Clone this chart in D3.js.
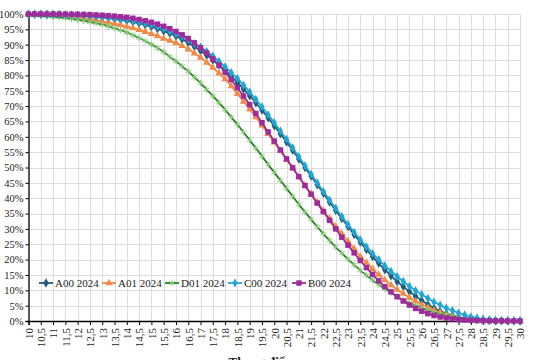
<!DOCTYPE html>
<html>
<head>
<meta charset="utf-8">
<script src="https://cdn.jsdelivr.net/npm/d3@7"></script>
<style>
  html, body { margin: 0; padding: 0; background: #fff; }
  svg text { font-family: "Liberation Serif", "DejaVu Serif", serif; fill: #222; }
</style>
</head>
<body>
<svg id="chart" width="540" height="360"></svg>
<script>
// thang diem (0.25 step)
const scores = [10, 10.25, 10.5, 10.75, 11, 11.25, 11.5, 11.75, 12, 12.25, 12.5, 12.75,
  13, 13.25, 13.5, 13.75, 14, 14.25, 14.5, 14.75, 15, 15.25, 15.5, 15.75,
  16, 16.25, 16.5, 16.75, 17, 17.25, 17.5, 17.75, 18, 18.25, 18.5, 18.75,
  19, 19.25, 19.5, 19.75, 20, 20.25, 20.5, 20.75, 21, 21.25, 21.5, 21.75,
  22, 22.25, 22.5, 22.75, 23, 23.25, 23.5, 23.75, 24, 24.25, 24.5, 24.75,
  25, 25.25, 25.5, 25.75, 26, 26.25, 26.5, 26.75, 27, 27.25, 27.5, 27.75,
  28, 28.25, 28.5, 28.75, 29, 29.25, 29.5, 29.75, 30];

const xTicks = [10, 10.5, 11, 11.5, 12, 12.5, 13, 13.5, 14, 14.5, 15, 15.5, 16, 16.5,
  17, 17.5, 18, 18.5, 19, 19.5, 20, 20.5, 21, 21.5, 22, 22.5, 23, 23.5, 24, 24.5,
  25, 25.5, 26, 26.5, 27, 27.5, 28, 28.5, 29, 29.5, 30];
const yTicks = [0, 5, 10, 15, 20, 25, 30, 35, 40, 45, 50, 55, 60, 65, 70, 75, 80, 85, 90, 95, 100];

const a00 = [99.95, 99.93, 99.9, 99.85, 99.8, 99.75, 99.7, 99.6, 99.5, 99.35, 99.2, 99.05,
  98.9, 98.65, 98.4, 98.1, 97.8, 97.4, 97.0, 96.5, 95.9, 95.2, 94.5, 93.7,
  92.8, 91.8, 90.6, 89.4, 88.0, 86.6, 85.0, 83.4, 81.6, 79.7, 77.7, 75.6,
  73.4, 71.1, 68.7, 66.2, 63.6, 61.0, 58.3, 55.6, 52.8, 50.0, 47.2, 44.4,
  41.6, 38.8, 36.1, 33.4, 30.8, 28.2, 25.7, 23.3, 21.0, 18.8, 16.7, 14.7,
  12.9, 11.2, 9.6, 8.1, 6.7, 5.4, 4.2, 3.2, 2.4, 1.8, 1.3, 0.9,
  0.6, 0.45, 0.3, 0.2, 0.1, 0.07, 0.05, 0.02, 0];

const a01 = [99.9, 99.85, 99.8, 99.7, 99.6, 99.45, 99.3, 99.1, 98.9, 98.6, 98.3, 98.0,
  97.6, 97.2, 96.8, 96.4, 95.9, 95.4, 94.8, 94.2, 93.5, 92.8, 92.0, 91.3,
  90.5, 89.6, 88.5, 87.2, 85.8, 84.2, 82.5, 80.7, 78.8, 76.5, 74.0, 71.5,
  69.0, 66.4, 63.7, 61.0, 58.2, 55.4, 52.6, 49.8, 47.0, 44.2, 41.4, 38.7,
  36.0, 33.4, 30.8, 28.4, 26.0, 23.5, 21.0, 19.0, 17.0, 15.1, 13.3, 11.7,
  10.2, 8.9, 7.6, 6.4, 5.3, 4.4, 3.5, 2.8, 2.1, 1.6, 1.1, 0.8,
  0.5, 0.35, 0.2, 0.15, 0.1, 0.07, 0.05, 0.02, 0];

const d01 = [99.6, 99.5, 99.4, 99.25, 99.1, 98.9, 98.7, 98.4, 98.1, 97.8, 97.4, 97.0,
  96.5, 96.0, 95.4, 94.7, 94.0, 93.1, 92.2, 91.2, 90.1, 88.9, 87.6, 86.1,
  84.6, 83.0, 81.3, 79.4, 77.5, 75.4, 73.3, 71.1, 68.8, 66.4, 64.0, 61.5,
  58.9, 56.3, 53.7, 51.0, 48.4, 45.8, 43.2, 40.6, 38.0, 35.5, 33.1, 30.7,
  28.4, 26.2, 24.1, 22.1, 20.1, 18.3, 16.5, 14.9, 13.3, 11.9, 10.5, 9.2,
  8.0, 6.9, 5.9, 5.0, 4.2, 3.5, 2.8, 2.3, 1.8, 1.4, 1.1, 0.8,
  0.6, 0.45, 0.3, 0.2, 0.15, 0.1, 0.05, 0.02, 0];

const c00 = [99.95, 99.93, 99.9, 99.87, 99.84, 99.8, 99.75, 99.68, 99.6, 99.5, 99.4, 99.25,
  99.1, 98.9, 98.7, 98.45, 98.2, 97.8, 97.4, 97.0, 96.5, 95.9, 95.2, 94.4,
  93.6, 92.7, 91.6, 90.4, 89.2, 87.8, 86.3, 84.6, 82.8, 80.9, 79.0, 76.8,
  74.6, 72.2, 69.8, 67.2, 64.6, 61.9, 59.2, 56.4, 53.5, 50.6, 47.8, 45.0,
  42.2, 39.4, 36.7, 34.0, 31.4, 28.9, 26.5, 24.2, 22.0, 20.0, 18.0, 16.2,
  14.5, 12.9, 11.3, 9.9, 8.6, 7.4, 6.2, 5.2, 4.2, 3.4, 2.6, 2.0,
  1.4, 1.0, 0.6, 0.4, 0.25, 0.15, 0.1, 0.07, 0.05];

const b00 = [100, 100, 100, 100, 100, 99.97, 99.95, 99.92, 99.9, 99.85, 99.8, 99.7,
  99.6, 99.45, 99.3, 99.1, 98.9, 98.6, 98.2, 97.8, 97.3, 96.7, 96.0, 95.2,
  94.3, 93.2, 92.0, 90.6, 89.0, 87.3, 85.4, 83.3, 81.0, 78.6, 76.0, 73.3,
  70.5, 67.6, 64.6, 61.6, 58.6, 55.7, 52.8, 49.9, 47.0, 44.1, 41.3, 38.4,
  35.6, 32.8, 30.0, 27.3, 24.7, 22.2, 19.7, 17.4, 15.2, 13.1, 11.2, 9.5,
  7.9, 6.5, 5.2, 4.1, 3.2, 2.4, 1.8, 1.3, 1.0, 0.7, 0.5, 0.35,
  0.25, 0.15, 0.1, 0.07, 0.05, 0.03, 0.02, 0.01, 0];

const seriesNames = ["A00 2024", "A01 2024", "D01 2024", "C00 2024", "B00 2024"];
const seriesValues = [a00, a01, d01, c00, b00];

// styles per series
const styles = [
  { line: "#1f5b79", fill: "#1f5b79", shape: d3.symbolDiamond, size: 26, stroke: false },
  { line: "#ef8a47", fill: "#ef8a47", shape: d3.symbolTriangle, size: 24, stroke: false },
  { line: "#2f7a2c", fill: "#86cf74", shape: d3.symbolAsterisk, size: 30, stroke: true },
  { line: "#22a6d4", fill: "#22a6d4", shape: d3.symbolDiamond, size: 24, stroke: false },
  { line: "#9e2b9c", fill: "#9e2b9c", shape: d3.symbolSquare, size: 30, stroke: false }
];

const svg = d3.select("#chart");
const x = d3.scaleLinear().domain([10, 30]).range([28.5, 520]);
const y = d3.scaleLinear().domain([0, 100]).range([321, 14]);

// gridlines
const grid = svg.append("g").attr("class", "grid");
grid.selectAll("line.v")
  .data(xTicks.slice(1))
  .enter().append("line")
  .attr("x1", d => Math.round(x(d)) + 0.5).attr("x2", d => Math.round(x(d)) + 0.5)
  .attr("y1", y(100)).attr("y2", y(0))
  .attr("stroke", "#dedede").attr("stroke-width", 1);
grid.selectAll("line.h")
  .data(yTicks.slice(1))
  .enter().append("line")
  .attr("x1", x(10)).attr("x2", x(30))
  .attr("y1", d => Math.round(y(d)) + 0.5).attr("y2", d => Math.round(y(d)) + 0.5)
  .attr("stroke", "#dedede").attr("stroke-width", 1);

// axes
const fmtX = d => String(d).replace(".", ",");
const xAxis = d3.axisBottom(x).tickValues(xTicks).tickFormat(fmtX).tickSize(4).tickPadding(3);
const gx = svg.append("g").attr("transform", `translate(0,${y(0)})`).call(xAxis);
gx.select(".domain").attr("stroke", "#000").attr("stroke-width", 1.3);
gx.selectAll(".tick line").attr("stroke", "#000");
gx.selectAll(".tick text")
  .attr("font-size", 11)
  .attr("transform", "rotate(-90)")
  .attr("text-anchor", "end")
  .attr("x", -7).attr("y", 0).attr("dy", "0.35em");

const yAxis = d3.axisLeft(y).tickValues(yTicks).tickFormat(d => d + "%").tickSize(3).tickPadding(2);
const gy = svg.append("g").attr("transform", `translate(${x(10)},0)`).call(yAxis);
gy.select(".domain").attr("stroke", "#000").attr("stroke-width", 1.3);
gy.selectAll(".tick line").attr("stroke", "#000");
gy.selectAll(".tick text").attr("font-size", 10.5);
gy.selectAll("text").style("font-family", "'Liberation Serif', serif");
gx.selectAll("text").style("font-family", "'Liberation Serif', serif");

// lines + markers
const line = d3.line().x((d, i) => x(scores[i])).y(d => y(d)).curve(d3.curveMonotoneX);

seriesValues.forEach((vals, si) => {
  const st = styles[si];
  const g = svg.append("g");
  g.append("path")
    .datum(vals)
    .attr("d", line)
    .attr("fill", "none")
    .attr("stroke", st.line)
    .attr("stroke-width", 1.8);
  g.selectAll("path.m")
    .data(vals)
    .enter().append("path")
    .attr("class", "m")
    .attr("transform", (d, i) => `translate(${x(scores[i])},${y(d)})`)
    .attr("d", d3.symbol().type(st.shape).size(st.size))
    .attr("fill", st.stroke ? "none" : st.fill)
    .attr("stroke", st.stroke ? st.fill : "none")
    .attr("stroke-width", st.stroke ? 1 : 0);
});

// legend
const legendX = [39, 102, 165, 228, 292];
const legendY = 283;
seriesNames.forEach((name, si) => {
  const st = styles[si];
  const g = svg.append("g").attr("transform", `translate(${legendX[si]},${legendY})`);
  g.append("line").attr("x1", 0).attr("x2", 14).attr("y1", 0).attr("y2", 0)
    .attr("stroke", st.line).attr("stroke-width", 1.8);
  g.append("path")
    .attr("transform", "translate(7,0)")
    .attr("d", d3.symbol().type(st.shape).size(st.size))
    .attr("fill", st.stroke ? "none" : st.fill)
    .attr("stroke", st.stroke ? st.fill : "none")
    .attr("stroke-width", st.stroke ? 1 : 0);
  g.append("text")
    .attr("x", 16).attr("y", 0).attr("dy", "0.35em")
    .attr("font-size", 11)
    .text(name);
});

// axis title (cut off at bottom, as in the source)
svg.append("text")
  .attr("x", 262).attr("y", 366)
  .attr("text-anchor", "middle")
  .attr("font-size", 13)
  .attr("font-weight", "bold")
  .text("Thang điểm");
</script>
</body>
</html>
